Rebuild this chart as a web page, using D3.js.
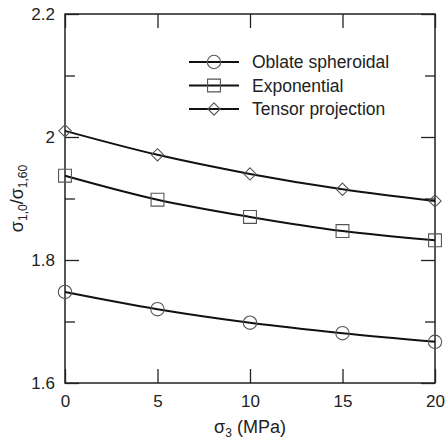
<!DOCTYPE html>
<html>
  <head>
    <style>
      body,
      html {
        margin: 0;
        padding: 0;
        background: #fff;
      }
      svg text {
        font-family: 'Liberation Sans', Arial, sans-serif;
      }
    </style>
  </head>
  <body>
    <svg id="svg" width="447" height="442"></svg>

    <script src="https://cdn.jsdelivr.net/npm/d3@7"></script>
    <script>
      // chart values
      const sigma3 = [0, 5, 10, 15, 20];
      const oblate = [1.748, 1.72, 1.698, 1.681, 1.667];
      const exponential = [1.937, 1.898, 1.87, 1.847, 1.832];
      const tensor = [2.01, 1.971, 1.94, 1.915, 1.896];
      const seriesNames = ['Oblate spheroidal', 'Exponential', 'Tensor projection'];
      const xTicks = [0, 5, 10, 15, 20];
      const yMajorTicks = [1.6, 1.8, 2, 2.2];
      const yMinorTicks = [1.7, 1.9, 2.1];

      const margin = { top: 14, right: 12, bottom: 59, left: 65 };
      const width = 447 - (margin.left + margin.right);
      const height = 442 - (margin.top + margin.bottom);

      const xScale = d3.scaleLinear().domain([0, 20]).range([0, width]);
      const yScale = d3.scaleLinear().domain([1.6, 2.2]).range([height, 0]);

      const svg = d3.select('#svg');
      const g = svg
        .append('g')
        .attr('transform', `translate(${margin.left}, ${margin.top})`);

      const styleAxis = (sel) => {
        sel.select('.domain').remove();
        sel.selectAll('line').attr('stroke', '#222').attr('stroke-width', 1.3);
        sel
          .selectAll('text')
          .attr('font-size', 17)
          .attr('fill', '#222')
          .style('font-family', "'Liberation Sans', Arial, sans-serif");
      };

      // bottom + top
      g.append('g')
        .attr('transform', `translate(0, ${height})`)
        .call(d3.axisBottom(xScale).tickValues(xTicks).tickSize(-14).tickPadding(12))
        .call(styleAxis);
      g.append('g')
        .call(d3.axisTop(xScale).tickValues(xTicks).tickSize(-14).tickFormat(''))
        .call(styleAxis);

      // left + right, major and minor
      g.append('g')
        .call(
          d3.axisLeft(yScale).tickValues(yMajorTicks).tickSize(-14).tickPadding(10).tickFormat(d3.format('~g'))
        )
        .call(styleAxis);
      g.append('g')
        .call(d3.axisLeft(yScale).tickValues(yMinorTicks).tickSize(-10).tickFormat(''))
        .call(styleAxis);
      g.append('g')
        .attr('transform', `translate(${width}, 0)`)
        .call(d3.axisRight(yScale).tickValues(yMajorTicks).tickSize(-14).tickFormat(''))
        .call(styleAxis);
      g.append('g')
        .attr('transform', `translate(${width}, 0)`)
        .call(d3.axisRight(yScale).tickValues(yMinorTicks).tickSize(-10).tickFormat(''))
        .call(styleAxis);

      // frame
      g.append('rect')
        .attr('width', width)
        .attr('height', height)
        .attr('fill', 'none')
        .attr('stroke', '#222')
        .attr('stroke-width', 1.5);

      // square turned 45 degrees, same width and height
      const diamond = {
        draw: (context, size) => {
          const r = Math.sqrt(size) / 2;
          context.moveTo(0, -r);
          context.lineTo(r, 0);
          context.lineTo(0, r);
          context.lineTo(-r, 0);
          context.closePath();
        },
      };

      const symbols = [
        d3.symbol().type(d3.symbolCircle).size(140),
        d3.symbol().type(d3.symbolSquare).size(165),
        d3.symbol().type(diamond).size(150),
      ];

      const series = [oblate, exponential, tensor].map((vals, i) => ({
        name: seriesNames[i],
        symbol: symbols[i],
        points: sigma3.map((x, j) => ({ x: x, y: vals[j] })),
      }));

      const line = d3
        .line()
        .x((d) => xScale(d.x))
        .y((d) => yScale(d.y))
        .curve(d3.curveMonotoneX);

      series.forEach((s) => {
        g.append('path')
          .attr('d', line(s.points))
          .attr('fill', 'none')
          .attr('stroke', '#111')
          .attr('stroke-width', 2);
        g.selectAll(null)
          .data(s.points)
          .enter()
          .append('path')
          .attr('d', s.symbol)
          .attr('transform', (d) => `translate(${xScale(d.x)}, ${yScale(d.y)})`)
          .attr('fill', 'none')
          .attr('stroke', '#555')
          .attr('stroke-width', 1.1);
      });

      // legend
      const legend = g.append('g').attr('transform', 'translate(124, 48)');
      series.forEach((s, i) => {
        const row = legend.append('g').attr('transform', `translate(0, ${i * 23.5})`);
        row.append('line')
          .attr('x1', 0)
          .attr('x2', 50)
          .attr('stroke', '#111')
          .attr('stroke-width', 2);
        row.append('path')
          .attr('d', s.symbol)
          .attr('transform', 'translate(25, 0)')
          .attr('fill', 'none')
          .attr('stroke', '#555')
          .attr('stroke-width', 1.1);
        row.append('text')
          .attr('x', 63)
          .attr('dy', '0.35em')
          .attr('font-size', 17.5)
          .attr('fill', '#222')
          .text(s.name);
      });

      // axis titles
      const xTitle = svg
        .append('text')
        .attr('x', margin.left + width / 2)
        .attr('y', 433)
        .attr('text-anchor', 'middle')
        .attr('font-size', 18)
        .attr('fill', '#222');
      xTitle.append('tspan').text('σ');
      xTitle.append('tspan').attr('font-size', 12).attr('dy', 4).text('3');
      xTitle.append('tspan').attr('dy', -4).text(' (MPa)');

      const yTitle = svg
        .append('text')
        .attr('transform', `translate(23, ${margin.top + height / 2}) rotate(-90)`)
        .attr('text-anchor', 'middle')
        .attr('font-size', 18)
        .attr('fill', '#222');
      yTitle.append('tspan').text('σ');
      yTitle.append('tspan').attr('font-size', 12).attr('dy', 4).text('1,0');
      yTitle.append('tspan').attr('dy', -4).text('/σ');
      yTitle.append('tspan').attr('font-size', 12).attr('dy', 4).text('1,60');
    </script>
  </body>
</html>
